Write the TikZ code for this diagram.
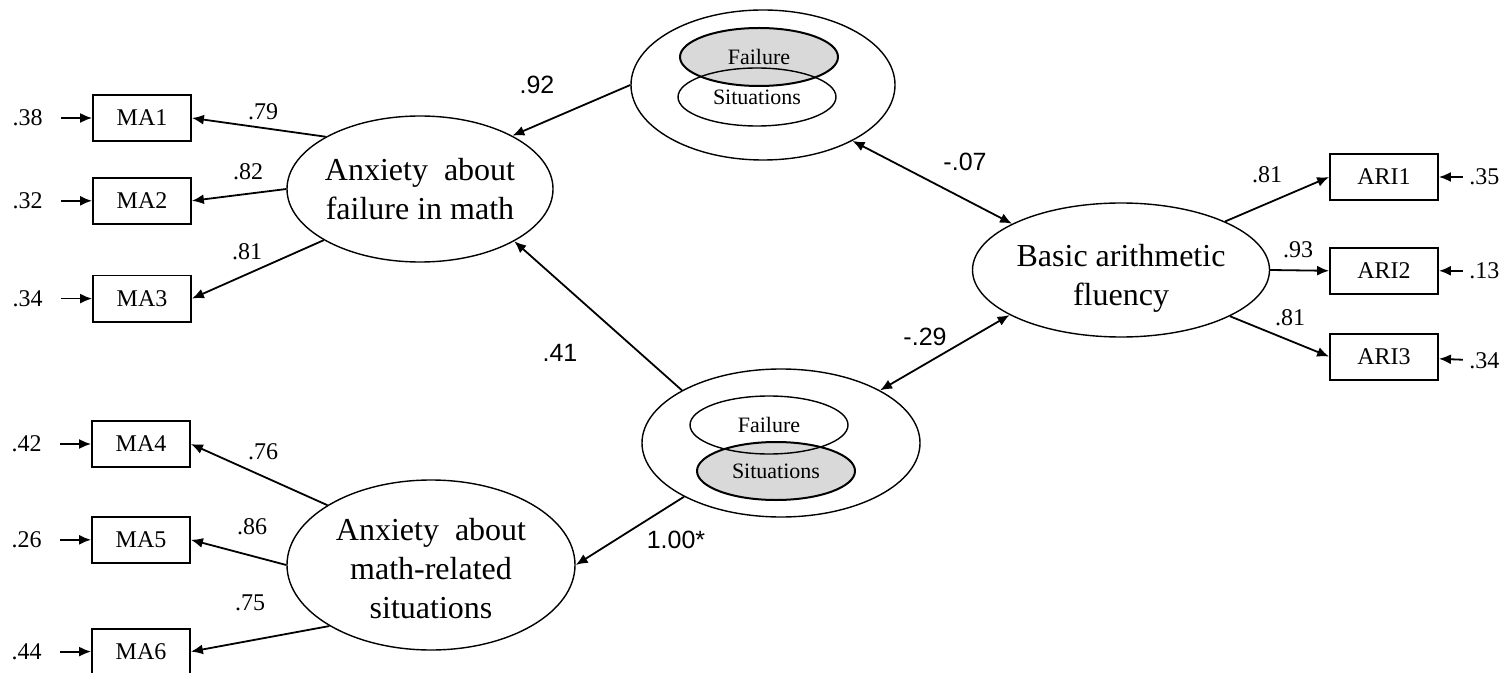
\documentclass[tikz,border=0pt]{standalone}
\usepackage{fontspec}
\setmainfont{Liberation Serif}
\newfontfamily\arialfont{Liberation Sans}
\usetikzlibrary{arrows.meta,shapes.geometric,positioning}
\definecolor{subgray}{RGB}{217,217,217}
\newcommand\latfont{\fontsize{16pt}{19.5pt}\selectfont}

\begin{document}
\begin{tikzpicture}[x=0.5pt, y=-0.5pt,
  obs/.style={draw, line width=0.9pt, minimum width=49pt, minimum height=23pt, inner sep=0pt, font=\fontsize{12pt}{14pt}\selectfont},
  lat/.style={draw, ellipse, line width=0.7pt, inner sep=0pt},
  sub/.style={draw, ellipse, line width=0.7pt, inner sep=0pt, minimum width=79pt, minimum height=29pt, font=\fontsize{11pt}{13pt}\selectfont},
  graysub/.style={sub, fill=subgray, line width=1pt},
  err/.style={inner sep=0pt, font=\fontsize{12pt}{14pt}\selectfont},
  lding/.style={inner sep=0pt, font=\fontsize{12pt}{14pt}\selectfont},
  beta/.style={inner sep=0pt, font=\arialfont\fontsize{12.5pt}{15pt}\selectfont},
  reg/.style={line width=0.9pt, -{Latex[length=6pt,width=5pt]}},
  cov/.style={line width=0.9pt, {Latex[length=6pt,width=5pt]}-{Latex[length=6pt,width=5pt]}}
]
\useasboundingbox (0,0) rectangle (1507,673);

% latent variables
\node[lat, minimum width=133pt, minimum height=73pt,
  label={[align=center, font=\latfont]center:Anxiety\ \ about\\failure in math}] (AF) at (420,189) {};
\node[lat, minimum width=144pt, minimum height=85pt,
  label={[align=center, font=\latfont, yshift=-2pt]center:Anxiety\ \ about\\math-related\\situations}] (AS) at (431,565) {};
\node[lat, minimum width=148.5pt, minimum height=67pt,
  label={[align=center, font=\latfont, yshift=-4pt]center:Basic arithmetic\\fluency}] (BAF) at (1121,270) {};

% bifactor ellipses
\node[lat, minimum width=132pt, minimum height=75pt] (FS1) at (763,85) {};
\node[graysub] (FS1f) at (759,57) {Failure};
\node[sub] (FS1s) at (757,97) {Situations};

\node[lat, minimum width=139pt, minimum height=74pt] (FS2) at (781,443) {};
\node[graysub] (FS2s) at (776,471) {Situations};
\node[sub] (FS2f) at (769,425) {Failure};

% indicators
\node[obs] (MA1) at (142,118) {MA1};
\node[obs, below=17.5pt of MA1] (MA2) {MA2};
\node[obs, below=25pt of MA2] (MA3) {MA3};
\node[obs] (MA4) at (141,444) {MA4};
\node[obs, below=24pt of MA4] (MA5) {MA5};
\node[obs, below=32pt of MA5] (MA6) {MA6};
\node[obs, minimum width=54pt] (ARI1) at (1384,177) {ARI1};
\node[obs, minimum width=54pt, below=23pt of ARI1] (ARI2) {ARI2};
\node[obs, minimum width=54pt, below=19pt of ARI2] (ARI3) {ARI3};

% errors
\node[err, left=24.5pt of MA1] (e1) {.38};
\node[err, left=24.5pt of MA2] (e2) {.32};
\node[err, left=24.5pt of MA3] (e3) {.34};
\node[err, left=24.5pt of MA4] (e4) {.42};
\node[err, left=24.5pt of MA5] (e5) {.26};
\node[err, left=24.5pt of MA6] (e6) {.44};
\node[err, right=15pt of ARI1] (e7) {.35};
\node[err, right=15pt of ARI2] (e8) {.13};
\node[err, right=15pt of ARI3, yshift=-2pt] (e9) {.34};

\foreach \e/\m in {e1/MA1, e2/MA2, e3/MA3, e4/MA4, e5/MA5, e6/MA6}
  \draw[reg, shorten <=9pt] (\e) -- (\m);
\foreach \e/\m in {e7/ARI1, e8/ARI2, e9/ARI3}
  \draw[reg, shorten <=3pt] (\e) -- (\m);

% loadings
\draw[reg] (AF.151) -- (MA1.east);
\draw[reg] (AF.west) -- (MA2.east);
\draw[reg] (AF.208) -- (MA3.east);
\draw[reg] (AS.150) -- (MA4.east);
\draw[reg] (AS.west) -- (MA5.east);
\draw[reg] (AS.211) -- (MA6.east);
\draw[reg] (BAF.25) -- (ARI1.west);
\draw[reg] (BAF.east) -- (ARI2.west);
\draw[reg] (BAF.337) -- (ARI3.west);

% structural paths
\draw[reg] (FS1.west) -- (AF.30);
\draw[reg] (FS2.152) -- (AF.331);
\draw[reg] (FS2.209) -- (AS.east);
\draw[cov] (FS1.328) -- (BAF.157);
\draw[cov] (FS2.28) -- (BAF.202);

% coefficients
\node[lding] (l1) at (263,112) {.79};
\node[lding] (l2) at (248,172) {.82};
\node[lding] (l3) at (247,252) {.81};
\node[lding] (l4) at (263,452) {.76};
\node[lding] (l5) at (252,527) {.86};
\node[lding] (l6) at (250,603) {.75};
\node[lding] (l7) at (1267,175) {.81};
\node[lding] (l8) at (1298,250) {.93};
\node[lding] (l9) at (1290,318) {.81};
\node[beta] (b1) at (537,85) {.92};
\node[beta] (b2) at (560,353) {.41};
\node[beta] (b3) at (676,540) {1.00*};
\node[beta] (b4) at (965,162) {-.07};
\node[beta] (b5) at (925,337) {-.29};
\end{tikzpicture}
\end{document}
